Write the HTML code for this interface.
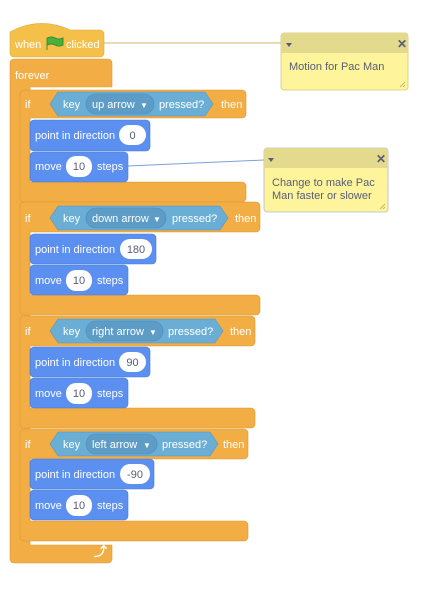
<!DOCTYPE html>
<html><head><meta charset="utf-8"><style>
html,body{margin:0;padding:0;background:#fff;width:423px;height:590px;overflow:hidden}
text{font-family:"Liberation Sans",sans-serif;font-size:11px}
.w{fill:#fff}.d{fill:#575e75}
</style></head><body>
<svg width="423" height="590" xmlns="http://www.w3.org/2000/svg">
<!-- connector lines -->
<line x1="104" y1="43" x2="282" y2="43" stroke="#d9b56b" stroke-width="1"/>
<line x1="128" y1="166" x2="264" y2="160" stroke="#7f9fd8" stroke-width="1"/>

<!-- forever -->
<path d="M10,63 a4,4 0 0 1 4,-4 h94 a4,4 0 0 1 4,4 v24 h-82 v458 h82 v14 a4,4 0 0 1 -4,4 h-94 a4,4 0 0 1 -4,-4 z" fill="#f2ad44" stroke="#d99a36" stroke-width="0.6"/>
<text x="15" y="79" class="w">forever</text>
<text x="94" y="556" class="w" style="font-size:13px;font-weight:bold">⤴</text>

<!-- hat -->
<path d="M10,32 q30,-16 60,-2 h30 a4,4 0 0 1 4,4 v19 a4,4 0 0 1 -4,4 h-86 a4,4 0 0 1 -4,-4 z" fill="#f4c04a" stroke="#dba93a" stroke-width="0.6"/>
<text x="15" y="48" class="w">when</text>
<path d="M47,38 v12 M47,38 q5,-2 8,0 q4,2 8,0 v7 q-4,2 -8,0 q-3,-2 -8,0" fill="#4cae3c" stroke="#3a8f2e" stroke-width="1"/>
<text x="66" y="48" class="w">clicked</text>

<!-- if blocks -->
<g id="if1">
<path d="M20,94 a4,4 0 0 1 4,-4 h218 a4,4 0 0 1 4,4 v20 a4,4 0 0 1 -4,4 h-212 v64 h212 a4,4 0 0 1 4,4 v12 a4,4 0 0 1 -4,4 h-218 a4,4 0 0 1 -4,-4 z" fill="#f2ad44" stroke="#d99a36" stroke-width="0.6"/>
<text x="25" y="108" class="w">if</text>
<polygon points="50,104 58,92 205,92 213,104 205,116 58,116" fill="#6aaed6" stroke="#5596bd" stroke-width="0.6"/>
<text x="63" y="108" class="w">key</text>
<rect x="86" y="94" width="68" height="20" rx="10" fill="#5c9cc6" stroke="#4e8ab3" stroke-width="0.6"/>
<text x="92" y="108" class="w">up arrow</text><text x="140" y="108" class="w" style="font-size:8px">▼</text>
<text x="159" y="108" class="w">pressed?</text>
<text x="221" y="108" class="w">then</text>
<rect x="30" y="120" width="120" height="31" rx="4" fill="#5b8ff0" stroke="#4a7bd6" stroke-width="0.6"/>
<text x="35" y="139" class="w">point in direction</text>
<rect x="119" y="125" width="27" height="20" rx="10" fill="#fff"/>
<text x="132.5" y="139" class="d" text-anchor="middle">0</text>
<rect x="30" y="152" width="98" height="30" rx="4" fill="#5b8ff0" stroke="#4a7bd6" stroke-width="0.6"/>
<text x="35" y="170" class="w">move</text>
<rect x="66" y="156" width="26" height="21" rx="10" fill="#fff"/>
<text x="79" y="170" class="d" text-anchor="middle">10</text>
<text x="97" y="170" class="w">steps</text>
</g>

<g>
<path d="M20,206 a4,4 0 0 1 4,-4 h232 a4,4 0 0 1 4,4 v22 a4,4 0 0 1 -4,4 h-226 v63 h226 a4,4 0 0 1 4,4 v12 a4,4 0 0 1 -4,4 h-232 a4,4 0 0 1 -4,-4 z" fill="#f2ad44" stroke="#d99a36" stroke-width="0.6"/>
<text x="25" y="222" class="w">if</text>
<polygon points="50,218 58,206 220,206 228,218 220,230 58,230" fill="#6aaed6" stroke="#5596bd" stroke-width="0.6"/>
<text x="63" y="222" class="w">key</text>
<rect x="86" y="208" width="80" height="20" rx="10" fill="#5c9cc6" stroke="#4e8ab3" stroke-width="0.6"/>
<text x="92" y="222" class="w">down arrow</text><text x="153" y="222" class="w" style="font-size:8px">▼</text>
<text x="172" y="222" class="w">pressed?</text>
<text x="235" y="222" class="w">then</text>
<rect x="30" y="234" width="126" height="30" rx="4" fill="#5b8ff0" stroke="#4a7bd6" stroke-width="0.6"/>
<text x="35" y="253" class="w">point in direction</text>
<rect x="120" y="239" width="32" height="20" rx="10" fill="#fff"/>
<text x="136" y="253" class="d" text-anchor="middle">180</text>
<rect x="30" y="265" width="98" height="30" rx="4" fill="#5b8ff0" stroke="#4a7bd6" stroke-width="0.6"/>
<text x="35" y="284" class="w">move</text>
<rect x="66" y="270" width="26" height="21" rx="10" fill="#fff"/>
<text x="79" y="284" class="d" text-anchor="middle">10</text>
<text x="97" y="284" class="w">steps</text>
</g>

<g>
<path d="M20,320 a4,4 0 0 1 4,-4 h227 a4,4 0 0 1 4,4 v22 a4,4 0 0 1 -4,4 h-221 v62 h221 a4,4 0 0 1 4,4 v12 a4,4 0 0 1 -4,4 h-227 a4,4 0 0 1 -4,-4 z" fill="#f2ad44" stroke="#d99a36" stroke-width="0.6"/>
<text x="25" y="335" class="w">if</text>
<polygon points="50,331 58,319 215,319 223,331 215,343 58,343" fill="#6aaed6" stroke="#5596bd" stroke-width="0.6"/>
<text x="63" y="335" class="w">key</text>
<rect x="86" y="321" width="77" height="20" rx="10" fill="#5c9cc6" stroke="#4e8ab3" stroke-width="0.6"/>
<text x="92" y="335" class="w">right arrow</text><text x="149" y="335" class="w" style="font-size:8px">▼</text>
<text x="168" y="335" class="w">pressed?</text>
<text x="230" y="335" class="w">then</text>
<rect x="30" y="347" width="120" height="30" rx="4" fill="#5b8ff0" stroke="#4a7bd6" stroke-width="0.6"/>
<text x="35" y="366" class="w">point in direction</text>
<rect x="119" y="352" width="27" height="20" rx="10" fill="#fff"/>
<text x="132.5" y="366" class="d" text-anchor="middle">90</text>
<rect x="30" y="378" width="98" height="30" rx="4" fill="#5b8ff0" stroke="#4a7bd6" stroke-width="0.6"/>
<text x="35" y="397" class="w">move</text>
<rect x="66" y="383" width="26" height="21" rx="10" fill="#fff"/>
<text x="79" y="397" class="d" text-anchor="middle">10</text>
<text x="97" y="397" class="w">steps</text>
</g>

<g>
<path d="M20,433 a4,4 0 0 1 4,-4 h220 a4,4 0 0 1 4,4 v22 a4,4 0 0 1 -4,4 h-214 v62 h214 a4,4 0 0 1 4,4 v12 a4,4 0 0 1 -4,4 h-220 a4,4 0 0 1 -4,-4 z" fill="#f2ad44" stroke="#d99a36" stroke-width="0.6"/>
<text x="25" y="448" class="w">if</text>
<polygon points="50,444 58,432 210,432 218,444 210,456 58,456" fill="#6aaed6" stroke="#5596bd" stroke-width="0.6"/>
<text x="63" y="448" class="w">key</text>
<rect x="86" y="434" width="71" height="20" rx="10" fill="#5c9cc6" stroke="#4e8ab3" stroke-width="0.6"/>
<text x="92" y="448" class="w">left arrow</text><text x="143" y="448" class="w" style="font-size:8px">▼</text>
<text x="162" y="448" class="w">pressed?</text>
<text x="223" y="448" class="w">then</text>
<rect x="30" y="459" width="124" height="30" rx="4" fill="#5b8ff0" stroke="#4a7bd6" stroke-width="0.6"/>
<text x="35" y="478" class="w">point in direction</text>
<rect x="120" y="464" width="30" height="20" rx="10" fill="#fff"/>
<text x="135" y="478" class="d" text-anchor="middle">-90</text>
<rect x="30" y="490" width="98" height="30" rx="4" fill="#5b8ff0" stroke="#4a7bd6" stroke-width="0.6"/>
<text x="35" y="509" class="w">move</text>
<rect x="66" y="495" width="26" height="21" rx="10" fill="#fff"/>
<text x="79" y="509" class="d" text-anchor="middle">10</text>
<text x="97" y="509" class="w">steps</text>
</g>

<!-- comment 1 -->
<rect x="281" y="33" width="127" height="57" rx="3" fill="#fef49c" stroke="#d9c772" stroke-width="0.8"/>
<path d="M281,36 a3,3 0 0 1 3,-3 h121 a3,3 0 0 1 3,3 v17 h-127 z" fill="#e4da8e"/>
<polygon points="286,43 292,43 289,47" fill="#575e75"/>
<text x="397" y="48" style="font-size:12px;font-weight:bold" fill="#575e75">✕</text>
<text x="289" y="70" fill="#575e75" style="font-size:11px">Motion for Pac Man</text>
<path d="M400,87 l5,-5 M403,87 l2,-2" stroke="#b5a96a" stroke-width="0.8"/>

<!-- comment 2 -->
<rect x="264" y="148" width="124" height="64" rx="3" fill="#fef49c" stroke="#b0bcd0" stroke-width="0.8"/>
<path d="M264,151 a3,3 0 0 1 3,-3 h118 a3,3 0 0 1 3,3 v17 h-124 z" fill="#e4da8e"/>
<polygon points="268,158 274,158 271,162" fill="#575e75"/>
<text x="376" y="163" style="font-size:12px;font-weight:bold" fill="#575e75">✕</text>
<text x="272" y="186" fill="#575e75">Change to make Pac</text>
<text x="272" y="199" fill="#575e75">Man faster or slower</text>
<path d="M380,209 l5,-5 M383,209 l2,-2" stroke="#b5a96a" stroke-width="0.8"/>
</svg>
</body></html>
